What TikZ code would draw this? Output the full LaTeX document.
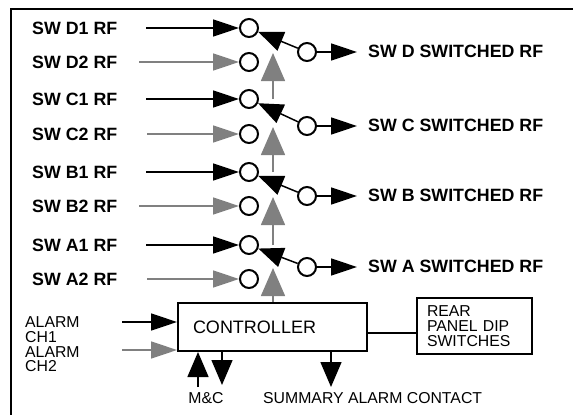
\documentclass[tikz,border=0pt]{standalone}
\usepackage{fontspec}
\setmainfont{Liberation Sans}
\usetikzlibrary{arrows.meta}
\tikzset{
	pin_node/.style = {circle, draw, line width=2pt, minimum size=18pt, inner sep=0pt},
	box_node/.style = {rectangle, draw, line width=2pt, align=left, font=\fontsize{18}{18}\selectfont},
	rf_label/.style = {anchor=west, inner sep=0pt, font=\fontsize{17.8}{20}\selectfont\bfseries},
	small_label/.style = {inner sep=0pt, align=left, font=\fontsize{15.8}{14.5}\selectfont},
	blk_arrow/.style = {draw=black, line width=1.5pt, -{Triangle[length=26pt, width=17pt]}},
	gry_arrow/.style = {draw=gray, line width=1.5pt, -{Triangle[length=26pt, width=17pt]}},
	gry_up/.style = {draw=gray, line width=1.6pt, -{Triangle[length=28pt, width=24pt]}},
	sel_arrow/.style = {draw=black, line width=1.5pt, -{Triangle[length=25pt, width=20pt]}},
	io_arrow/.style = {draw=black, line width=1.5pt, -{Triangle[length=25pt, width=21pt]}}
}
\begin{document}
\begin{tikzpicture}[x=1pt, y=-1pt]
	\useasboundingbox (0,0) rectangle (573,415);
	\draw[line width=2.5pt] (11,415) -- (11,9) -- (573,9);
	\foreach \g/\ya/\yb/\yr/\xb in {D/28/62/52/139, C/99/134/126/147, B/172/206/196/139, A/245/279/267/147}{
		\node[rf_label] (lbl\g1) at (32,\ya) {SW \g1 RF};
		\node[rf_label] (lbl\g2) at (32,\yb) {SW \g2 RF};
		\node[pin_node] (pin\g1) at (249,\ya) {};
		\node[pin_node] (pin\g2) at (249,\yb) {};
		\node[pin_node] (hub\g) at (307,\yr) {};
		\node[rf_label] (out\g) at (368,\yr-1) {SW \g\ SWITCHED RF};
		\coordinate (src\g1) at (146,\ya);
		\coordinate (src\g2) at (\xb,\yb);
		\coordinate (dst\g) at (357,\yr);
		\coordinate (tip\g) at (273,\yr+1);
		\coordinate (base\g) at (273,\ya);
		\draw[blk_arrow] (src\g1) -- (pin\g1);
		\draw[gry_arrow] (src\g2) -- (pin\g2);
		\draw[sel_arrow] (hub\g) -- (pin\g1);
		\draw[blk_arrow] (hub\g) -- (dst\g);
	}
	\node[box_node, text width=159pt, inner xsep=15pt, minimum height=48pt] (ctrl) at (272.5,327) {CONTROLLER};
	\node[box_node, font=\fontsize{15.8}{15}\selectfont, text width=95pt, inner xsep=10pt, minimum height=56pt] (dip) at (474.5,326) {REAR\\PANEL DIP\\SWITCHES};
	\draw[gry_up] (ctrl.north -| tipA) -- (tipA);
	\draw[gry_up] (baseA) -- (tipB);
	\draw[gry_up] (baseB) -- (tipC);
	\draw[gry_up] (baseC) -- (tipD);
	\draw[line width=2pt] ([yshift=-6pt]ctrl.east) -- ([yshift=-7pt]dip.west);
	\node[small_label, anchor=west] (al1) at (25,329.5) {ALARM\\CH1};
	\node[small_label, anchor=west] (al2) at (25,359) {ALARM\\CH2};
	\coordinate (al1src) at (122,322);
	\coordinate (al2src) at (122,350);
	\draw[blk_arrow] (al1src) -- (al1src -| ctrl.west);
	\draw[gry_arrow] (al2src) -- (al2src -| ctrl.west);
	\node[small_label, anchor=base] (mc) at (206,403) {M\&C};
	\node[small_label, anchor=base west] (sum) at (263,403) {SUMMARY ALARM CONTACT};
	\coordinate (mcin) at (198,387);
	\coordinate (mcout) at (222,385);
	\coordinate (sumout) at (331,387);
	\draw[io_arrow] (mcin) -- (mcin |- ctrl.south);
	\draw[io_arrow] (mcout |- ctrl.south) -- (mcout);
	\draw[io_arrow] (sumout |- ctrl.south) -- (sumout);
\end{tikzpicture}
\end{document}
